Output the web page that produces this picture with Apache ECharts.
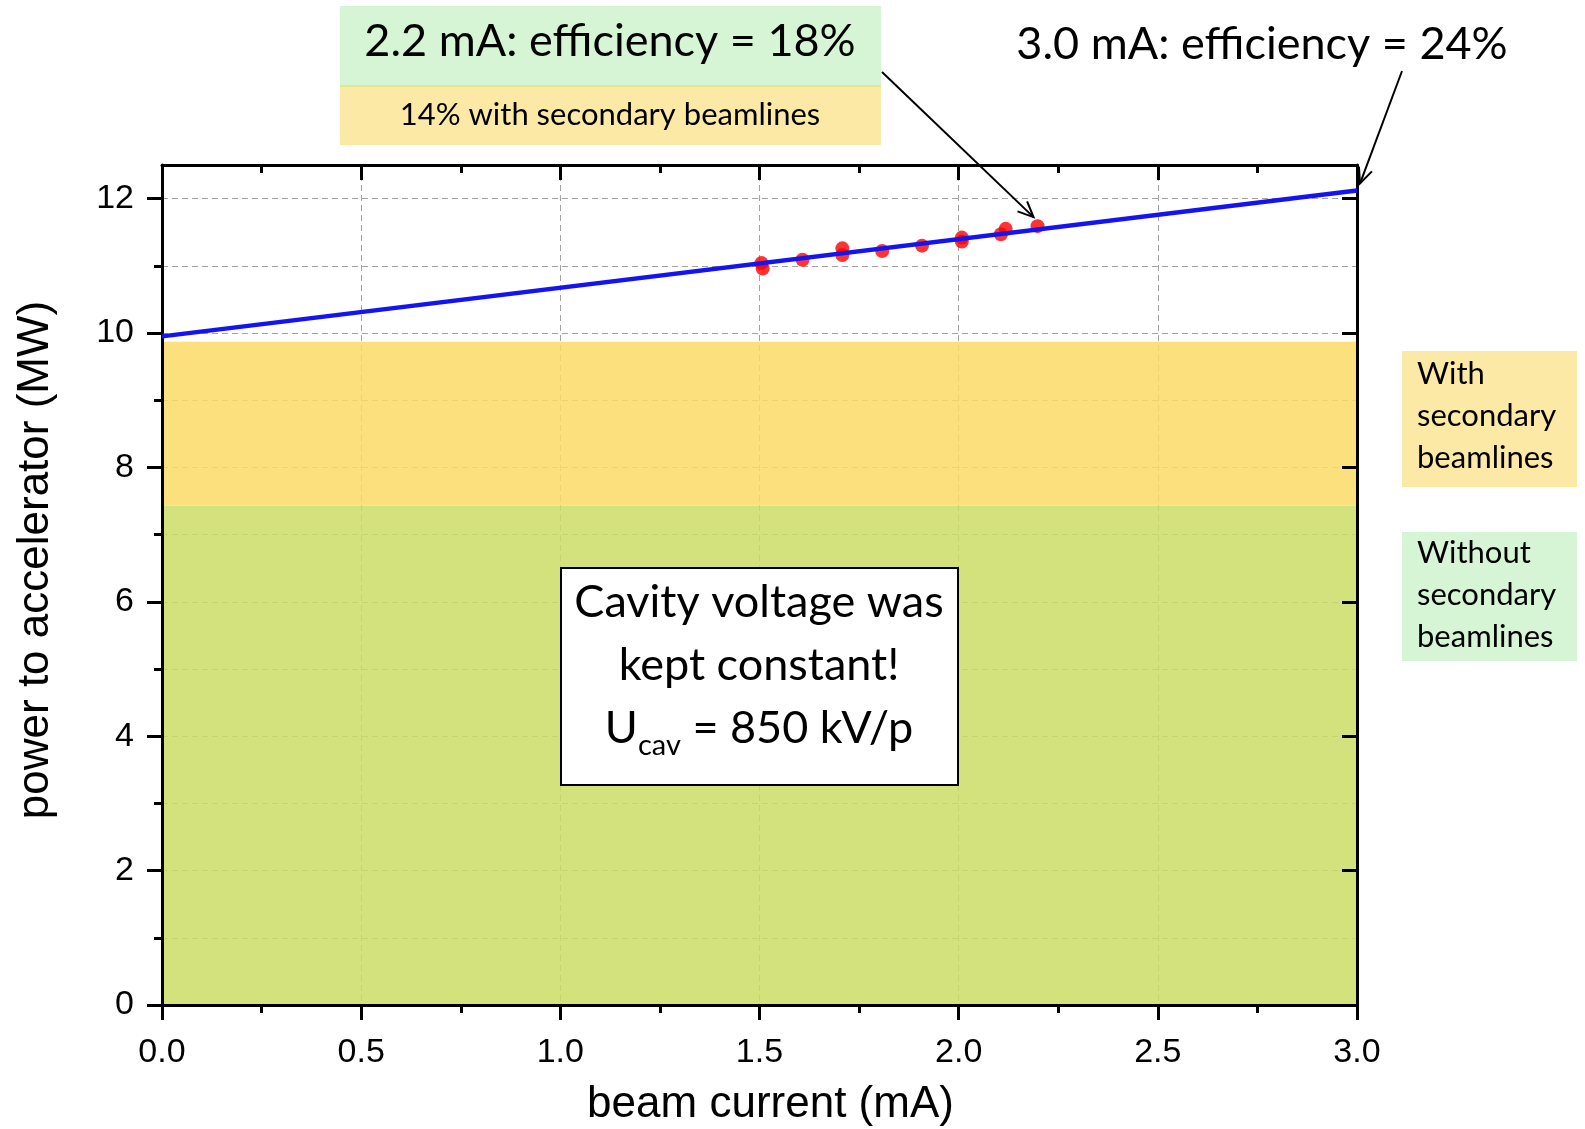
<!DOCTYPE html>
<html>
<head>
<meta charset="utf-8">
<title>power to accelerator vs beam current</title>
<script src="https://cdn.jsdelivr.net/npm/echarts@6/dist/echarts.min.js"></script>
<style>
html, body { margin: 0; padding: 0; background: #fff; }
#chart { width: 1585px; height: 1129px; }
</style>
</head>
<body>
<div id="chart"></div>
<script>
// values
var powerTicks = [0, 2, 4, 6, 8, 10, 12];
var powerMinorTicks = [1, 3, 5, 7, 9, 11];
var measCurrent = [1.505, 1.508, 1.608, 1.708, 1.708, 1.808, 1.908, 2.008, 2.008, 2.106, 2.118, 2.198];
var measPower = [11.04, 10.96, 11.09, 11.26, 11.16, 11.22, 11.30, 11.42, 11.36, 11.47, 11.55, 11.59];
var fitCurrent = [0, 3.0];
var fitPower = [9.95, 12.12];
var bandWith = [7.43, 9.87];      // with secondary beamlines
var bandWithout = [0, 7.43];      // without secondary beamlines

var AXIS_FONT = '"Liberation Sans", Arial, sans-serif';
var NOTE_FONT = 'Lato, "Open Sans", sans-serif';
var dash = { color: '#a3a3a3', width: 1, type: [6, 4] };
var black = { color: '#000', width: 3 };

var chart = echarts.init(document.getElementById('chart'));

var option = {
    animation: false,
    grid: { left: 162, right: 228, top: 165, bottom: 124, containLabel: false, outerBoundsMode: 'none' },
    xAxis: [
        {
            type: 'value', position: 'bottom', min: 0, max: 3, interval: 0.5, z: 3,
            axisLine: { show: true, onZero: false, lineStyle: black },
            axisTick: { show: true, inside: false, length: 15, lineStyle: black },
            minorTick: { show: true, splitNumber: 2, length: 8, lineStyle: black },
            axisLabel: { color: '#000', fontFamily: AXIS_FONT, fontSize: 34, margin: 31,
                formatter: function (v) { return v.toFixed(1); } },
            splitLine: { show: false },
            name: 'beam current (mA)', nameLocation: 'middle', nameGap: 78,
            nameTextStyle: { color: '#000', fontFamily: AXIS_FONT, fontSize: 44, padding: [0, 0, 0, 22] }
        },
        {
            type: 'value', position: 'top', min: 0, max: 3, interval: 0.5, z: 1,
            axisLine: { show: true, onZero: false, lineStyle: black },
            axisTick: { show: true, inside: true, length: 15, lineStyle: black },
            minorTick: { show: true, splitNumber: 2, length: 8, lineStyle: black },
            axisLabel: { show: false },
            splitLine: { show: true, lineStyle: dash }
        }
    ],
    yAxis: [
        {
            type: 'value', position: 'left', min: 0, max: 12.5, interval: 2, z: 3,
            axisLine: { show: true, onZero: false, lineStyle: black },
            axisTick: { show: true, inside: false, length: 15, lineStyle: black, customValues: powerTicks },
            axisLabel: { color: '#000', fontFamily: AXIS_FONT, fontSize: 34, margin: 28, customValues: powerTicks,
                formatter: function (v) { return v > 12 ? '' : String(v); } },
            splitLine: { show: false },
            name: 'power to accelerator (MW)', nameLocation: 'middle', nameGap: 104, nameRotate: 90,
            nameTextStyle: { color: '#000', fontFamily: AXIS_FONT, fontSize: 44, padding: [0, 0, 0, 50] }
        },
        {
            type: 'value', position: 'left', min: 0, max: 12.5, interval: 1, z: 3,
            axisLine: { show: false },
            axisTick: { show: true, inside: false, length: 8, lineStyle: black, customValues: powerMinorTicks },
            axisLabel: { show: false },
            splitLine: { show: false }
        },
        {
            type: 'value', position: 'right', min: 0, max: 12.5, interval: 2, z: 1,
            axisLine: { show: true, onZero: false, lineStyle: black },
            axisTick: { show: true, inside: true, length: 15, lineStyle: black, customValues: powerTicks },
            axisLabel: { show: false },
            splitLine: { show: true, lineStyle: dash }
        },
        {
            type: 'value', position: 'right', min: 0, max: 12.5, interval: 1, z: 1,
            axisLine: { show: false },
            axisTick: { show: true, inside: true, length: 8, lineStyle: black, customValues: powerMinorTicks },
            axisLabel: { show: false },
            splitLine: { show: true, lineStyle: dash }
        }
    ],
    series: [
        {
            // shaded bands
            type: 'line', data: [], z: 2, silent: true,
            markArea: {
                silent: true,
                data: [
                    [{ xAxis: fitCurrent[0], yAxis: bandWithout[0], itemStyle: { color: 'rgba(204,221,103,0.85)' } },
                     { xAxis: fitCurrent[1], yAxis: bandWithout[1] }],
                    [{ xAxis: fitCurrent[0], yAxis: bandWith[0], itemStyle: { color: 'rgba(251,218,102,0.85)' } },
                     { xAxis: fitCurrent[1], yAxis: bandWith[1] }]
                ]
            }
        },
        {
            type: 'scatter', z: 4, symbol: 'circle', symbolSize: 14,
            itemStyle: { color: '#ff0000' },
            data: measCurrent.map(function (c, i) { return [c, measPower[i]]; })
        },
        {
            type: 'line', z: 5, symbol: 'none',
            lineStyle: { color: '#1414f0', width: 4.5 },
            data: fitCurrent.map(function (c, i) { return [c, fitPower[i]]; })
        }
    ]
};
chart.setOption(option);

function arrow(x1, y1, x2, y2) {
    var ang = Math.atan2(y2 - y1, x2 - x1), L = 17, sp = 0.42;
    var p1 = [x2 - L * Math.cos(ang - sp), y2 - L * Math.sin(ang - sp)];
    var p2 = [x2 - L * Math.cos(ang + sp), y2 - L * Math.sin(ang + sp)];
    return [
        { type: 'line', z: 100, shape: { x1: x1, y1: y1, x2: x2, y2: y2 }, style: { stroke: '#000', lineWidth: 2 } },
        { type: 'polyline', z: 100, shape: { points: [p1, [x2, y2], p2] }, style: { stroke: '#000', lineWidth: 2, fill: null } }
    ];
}

function txt(x, y, text, size) {
    return {
        type: 'text', z: 101, x: x, y: y,
        style: { text: text, fontFamily: NOTE_FONT, fontSize: size, fill: '#000', align: 'center', verticalAlign: 'middle' }
    };
}

function leftTxt(x, y, text, size) {
    var t = txt(x, y, text, size);
    t.style.align = 'left';
    t.style.verticalAlign = 'top';
    t.style.lineHeight = 42;
    return t;
}

var last = measCurrent.length - 1;
var tip1 = chart.convertToPixel({ xAxisIndex: 0, yAxisIndex: 0 }, [measCurrent[last], measPower[last]]);
var tip2 = chart.convertToPixel({ xAxisIndex: 0, yAxisIndex: 0 }, [fitCurrent[1], fitPower[1]]);

var g = [];
// top-left note
g.push({ type: 'rect', z: 99, shape: { x: 340, y: 6, width: 541, height: 80 }, style: { fill: '#d5f5d5' } });
g.push({ type: 'rect', z: 99, shape: { x: 340, y: 86, width: 541, height: 59 }, style: { fill: '#fde9a6' } });
g.push({ type: 'line', z: 99, shape: { x1: 340, y1: 86, x2: 881, y2: 86 }, style: { stroke: '#e2e88c', lineWidth: 2 } });
g.push(txt(610, 41, '2.2 mA: efficiency = 18%', 45));
g.push(txt(610, 115, '14% with secondary beamlines', 31));
g = g.concat(arrow(882, 72, tip1[0] - 4, tip1[1] - 9));
// top-right note
g.push(txt(1262, 44, '3.0 mA: efficiency = 24%', 45));
g = g.concat(arrow(1402, 71, tip2[0] + 3, tip2[1] - 7));
// side legend boxes
g.push({ type: 'rect', z: 99, shape: { x: 1402, y: 351, width: 175, height: 136 }, style: { fill: '#fde9a6' } });
g.push(leftTxt(1417, 353, 'With\nsecondary\nbeamlines', 31));
g.push({ type: 'rect', z: 99, shape: { x: 1402, y: 532, width: 175, height: 129 }, style: { fill: '#d5f5d5' } });
g.push(leftTxt(1417, 532, 'Without\nsecondary\nbeamlines', 31));
// centre box
g.push({ type: 'rect', z: 99, shape: { x: 561, y: 568, width: 397, height: 217 }, style: { fill: '#fff', stroke: '#000', lineWidth: 2 } });
g.push(txt(759, 602, 'Cavity voltage was', 45));
g.push(txt(759, 665, 'kept constant!', 45));
g.push({
    type: 'text', z: 101, x: 759, y: 728,
    style: {
        text: '{m|U}{s|cav}{m| = 850 kV/p}', align: 'center', verticalAlign: 'middle',
        rich: {
            m: { fontFamily: NOTE_FONT, fontSize: 45, lineHeight: 64, fill: '#000' },
            s: { fontFamily: NOTE_FONT, fontSize: 29, lineHeight: 29, verticalAlign: 'bottom', fill: '#000' }
        }
    }
});

chart.setOption({ graphic: g });
</script>
</body>
</html>
